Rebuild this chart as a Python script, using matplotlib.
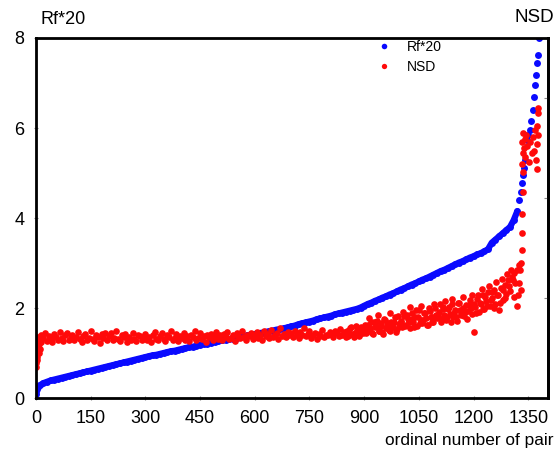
import numpy as np
import matplotlib
matplotlib.use("Agg")
import matplotlib.pyplot as plt

plt.rcParams['font.family'] = ['Liberation Sans', 'DejaVu Sans']

# Rf*20 curve (sorted), read every 10 ordinals from 0 to 1320
rf_idx = list(range(0, 1330, 10))
rf_vals = [
    0.10, 0.28, 0.33, 0.36, 0.39, 0.41, 0.43, 0.45, 0.47, 0.49,   # 0-90
    0.51, 0.53, 0.55, 0.57, 0.59, 0.61, 0.63, 0.65, 0.67, 0.69,   # 100-190
    0.71, 0.73, 0.75, 0.77, 0.79, 0.81, 0.83, 0.85, 0.87, 0.89,   # 200-290
    0.91, 0.93, 0.95, 0.96, 0.98, 1.00, 1.02, 1.04, 1.05, 1.07,   # 300-390
    1.09, 1.11, 1.13, 1.14, 1.16, 1.18, 1.20, 1.21, 1.23, 1.25,   # 400-490
    1.26, 1.28, 1.29, 1.31, 1.32, 1.34, 1.36, 1.37, 1.39, 1.40,   # 500-590
    1.42, 1.44, 1.45, 1.47, 1.48, 1.50, 1.52, 1.53, 1.55, 1.57,   # 600-690
    1.59, 1.61, 1.64, 1.66, 1.68, 1.70, 1.72, 1.75, 1.77, 1.79,   # 700-790
    1.81, 1.83, 1.86, 1.88, 1.90, 1.92, 1.94, 1.96, 1.98, 2.01,   # 800-890
    2.05, 2.09, 2.12, 2.16, 2.19, 2.23, 2.26, 2.30, 2.33, 2.37,   # 900-990
    2.41, 2.44, 2.48, 2.52, 2.55, 2.59, 2.63, 2.66, 2.70, 2.74,   # 1000-1090
    2.78, 2.82, 2.85, 2.89, 2.93, 2.97, 3.01, 3.04, 3.08, 3.12,   # 1100-1190
    3.15, 3.19, 3.22, 3.26, 3.31, 3.45, 3.52, 3.59, 3.66, 3.73,   # 1200-1290
    3.80, 3.95, 4.15,                                             # 1300-1320
]
# steep end of the Rf*20 curve
rf_tail_idx = [1325, 1329, 1333, 1336, 1339, 1342, 1346, 1350, 1354, 1358, 1362,
               1365, 1368, 1371, 1373, 1376, 1379]
rf_tail = [4.40, 4.58, 4.78, 4.95, 5.12, 5.30, 5.73, 5.85, 5.96, 6.15, 6.40,
           6.70, 6.95, 7.18, 7.44, 7.62, 8.00]

# NSD values, first few ordinals
nsd_head_idx = [0, 1, 2, 3, 4, 6, 7, 9, 11, 13]
nsd_head = [0.68, 0.78, 0.92, 1.05, 0.85, 1.15, 1.00, 1.20, 1.10, 1.25]

# NSD values every 5 ordinals, 0..1315
nsd_idx = list(range(0, 1320, 5))
nsd_vals = [
    1.30, 1.36, 1.28, 1.40, 1.33, 1.45, 1.27, 1.38, 1.31, 1.24, 1.42, 1.35, 1.29, 1.47, 1.33, 1.26, 1.39, 1.44, 1.30, 1.36,
    1.41, 1.28, 1.35, 1.46, 1.32, 1.25, 1.38, 1.43, 1.29, 1.34, 1.48, 1.31, 1.27, 1.40, 1.36, 1.23, 1.42, 1.33, 1.45, 1.30,
    1.37, 1.44, 1.28, 1.33, 1.49, 1.31, 1.26, 1.39, 1.35, 1.42, 1.24, 1.36, 1.30, 1.45, 1.32, 1.27, 1.41, 1.38, 1.29, 1.34,
    1.43, 1.30, 1.36, 1.25, 1.40, 1.47, 1.32, 1.28, 1.37, 1.44, 1.31, 1.26, 1.39, 1.35, 1.48, 1.29, 1.33, 1.42, 1.27, 1.38,
    1.34, 1.45, 1.30, 1.37, 1.26, 1.41, 1.35, 1.49, 1.29, 1.33, 1.44, 1.31, 1.38, 1.25, 1.40, 1.36, 1.43, 1.30, 1.35, 1.46,
    1.32, 1.39, 1.28, 1.42, 1.36, 1.47, 1.31, 1.34, 1.40, 1.27, 1.45, 1.37, 1.33, 1.50, 1.35, 1.29, 1.41, 1.38, 1.44, 1.32,
    1.39, 1.46, 1.34, 1.41, 1.30, 1.48, 1.37, 1.43, 1.33, 1.52, 1.36, 1.40, 1.45, 1.31, 1.55, 1.38, 1.42, 1.35, 1.47, 1.39,
    1.44, 1.36, 1.50, 1.41, 1.33, 1.46, 1.39, 1.55, 1.37, 1.42, 1.48, 1.34, 1.40, 1.45, 1.31, 1.43, 1.38, 1.51, 1.36, 1.41,
    1.39, 1.47, 1.42, 1.35, 1.50, 1.44, 1.38, 1.53, 1.41, 1.46, 1.36, 1.49, 1.43, 1.57, 1.40, 1.45, 1.52, 1.38, 1.48, 1.55,
    1.52, 1.45, 1.63, 1.50, 1.68, 1.42, 1.58, 1.72, 1.49, 1.61, 1.46, 1.75, 1.55, 1.66, 1.50, 1.70, 1.58, 1.80, 1.54, 1.64,
    1.68, 1.57, 1.82, 1.62, 1.75, 1.55, 1.90, 1.70, 1.79, 1.60, 1.95, 1.73, 1.66, 1.88, 1.77, 1.62, 1.93, 1.80, 1.70, 2.00,
    1.78, 1.92, 1.68, 2.03, 1.84, 1.74, 1.98, 1.87, 2.08, 1.80, 1.95, 1.72, 2.12, 1.88, 2.01, 1.82, 2.06, 1.93, 2.18, 1.86,
    1.47, 2.02, 2.20, 1.92, 2.10, 2.28, 1.98, 2.15, 2.35, 2.05, 2.22, 2.40, 2.10, 2.30, 1.96, 2.45, 2.18, 2.52, 2.32, 2.62,
    2.38, 2.70, 2.25, 2.55,
]

# extra NSD points in the wider part of the band, every 5 ordinals from 852 to 1312
nsd_mid_idx = list(range(852, 1313, 5))
nsd_mid = [
    1.50, 1.38, 1.56, 1.43, 1.35, 1.60, 1.47, 1.41, 1.58, 1.44,
    1.62, 1.48, 1.78, 1.55, 1.44, 1.70, 1.59, 1.85, 1.50, 1.66, 1.42, 1.74, 1.63, 1.52, 1.88, 1.57, 1.69, 1.47, 1.82, 1.61,
    1.72, 1.92, 1.60, 1.84, 1.68, 2.02, 1.76, 1.58, 1.95, 1.81, 1.66, 2.05, 1.74, 1.88, 1.63, 1.99, 1.79, 1.70, 2.08, 1.85,
    1.83, 2.10, 1.76, 1.97, 2.15, 1.81, 2.02, 1.70, 2.20, 1.90, 1.79, 2.12, 1.95, 1.85, 2.24, 1.92, 1.76, 2.07, 2.00, 2.28,
    2.08, 1.90, 2.30, 2.12, 2.42, 1.98, 2.25, 2.05, 2.50, 2.18, 2.36, 2.00, 2.58, 2.28, 2.12, 2.65, 2.40, 2.22, 2.75, 2.48,
    2.85, 2.62, 2.78,
]

# NSD tail, last ordinals
nsd_tail_idx = [1318, 1320, 1322, 1324, 1326, 1328, 1330, 1331, 1333, 1334, 1334, 1335, 1335,
                1334, 1335, 1334, 1335, 1338, 1340, 1342, 1345, 1348, 1352, 1356, 1360,
                1363, 1366, 1369, 1372, 1373, 1374, 1375, 1376, 1377, 1378]
nsd_tail = [2.05, 2.85, 2.30, 2.95, 2.55, 2.85, 2.40, 3.00, 3.29, 3.67, 4.10, 4.58, 5.02,
            5.20, 5.45, 5.70, 5.90, 5.55, 5.75, 5.35, 5.85, 5.60, 5.25, 5.70, 5.45,
            5.80, 5.50, 5.95, 5.30, 5.10, 5.65, 6.05, 5.85, 6.33, 6.44]

fig = plt.figure(figsize=(5.54, 4.54), dpi=100)
ax = fig.add_axes([0.065, 0.1233, 0.924, 0.793])

blue = '#0a0aff'
red = '#ff0a0a'
ax.plot(rf_idx, rf_vals, '-', color=blue, lw=4.5, solid_capstyle='round')
ax.plot(rf_idx + rf_tail_idx, rf_vals + rf_tail, 'o', color=blue, ms=5, mew=0, label='Rf*20')
nsd_x = nsd_head_idx + nsd_idx + nsd_mid_idx + nsd_tail_idx
nsd_y = nsd_head + nsd_vals + nsd_mid + nsd_tail
ax.plot(nsd_x, nsd_y, 'o', color=red, ms=4.8, mew=0, label='NSD')

ax.set_xlim(0, 1404)
ax.set_ylim(0, 8)
ax.set_xticks(np.arange(0, 1351, 150))
ax.set_yticks([0, 2, 4, 6, 8])
ax.tick_params(labelsize=13, length=3, width=0.8, color='#888888', direction='inout', pad=7)
for s in ax.spines.values():
    s.set_linewidth(2)

ax2 = ax.twinx()
ax2.set_ylim(0, 3.6)
ax2.set_yticks([0, 1, 2, 3])
ax2.tick_params(labelright=False, length=3, width=0.8, color='#888888', direction='in')
ax2.spines['right'].set_linewidth(2)

ax.legend(loc='upper left', bbox_to_anchor=(0.656, 1.011), frameon=False, fontsize=10,
          handlelength=1.0, handletextpad=1.1, labelspacing=0.46, borderaxespad=0,
          markerscale=0.8)

fig.text(40 / 554, 1 - 20 / 454, 'Rf*20', fontsize=13, va='center', ha='left')
fig.text(534 / 554, 1 - 17 / 454, 'NSD', fontsize=13.5, va='center', ha='center')
fig.text(385 / 554, 1 - 441 / 454, 'ordinal number of pair', fontsize=12.4, va='center', ha='left')

fig.savefig('out.png', dpi=100)
